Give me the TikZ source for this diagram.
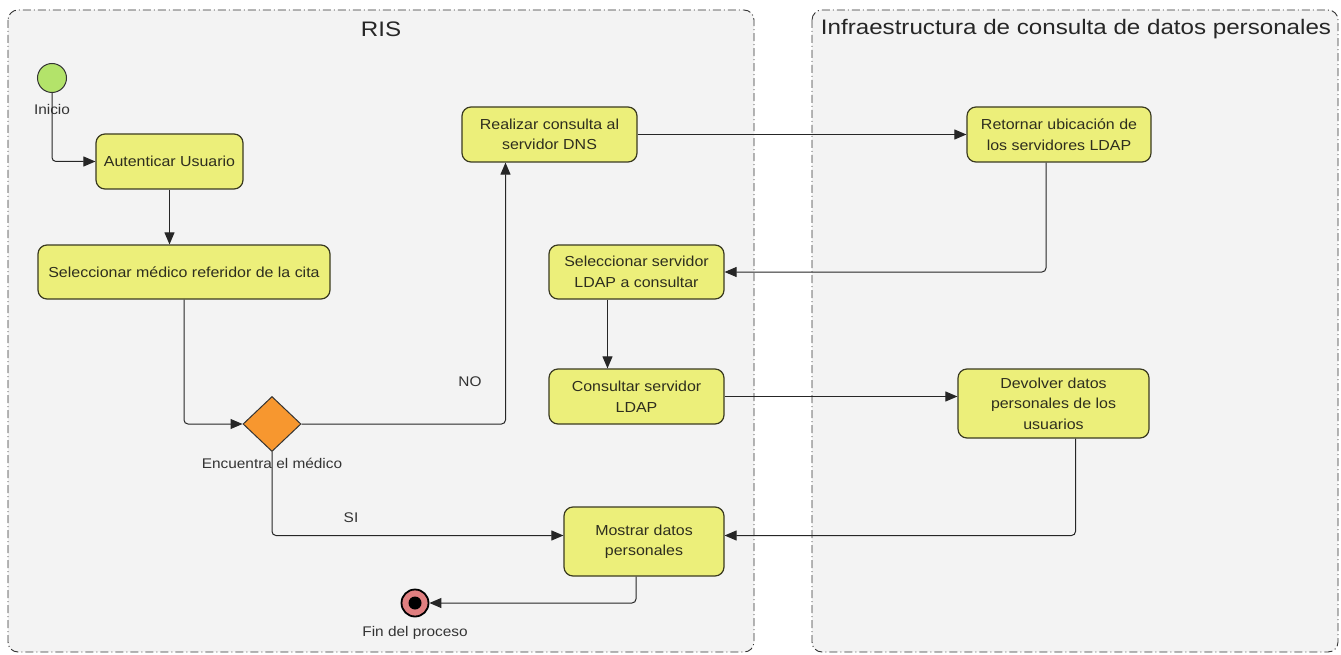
\documentclass[tikz,border=0pt]{standalone}
\usepackage{fontspec}
\setmainfont[FakeStretch=1.1]{Liberation Sans}
\newfontfamily\titlefont[FakeStretch=1.15]{Liberation Sans}
\usetikzlibrary{arrows.meta,shapes.geometric,calc}
\definecolor{lanebg}{HTML}{F3F3F3}
\definecolor{actfill}{HTML}{ECEF7A}
\definecolor{actdraw}{HTML}{3A3A20}
\definecolor{txt}{HTML}{2E2E1E}
\definecolor{startfill}{HTML}{B3E36A}
\definecolor{decfill}{HTML}{F7972F}
\definecolor{endfill}{HTML}{E07F80}
\tikzset{
  lane/.style={draw=black!80, fill=lanebg, line width=0.9pt, rounded corners=10pt,
    dash pattern=on 8pt off 3pt on 1pt off 3pt},
  act/.style={draw=actdraw, fill=actfill, line width=1.2pt, rounded corners=9pt,
    font=\fontsize{14.5}{20.5}\selectfont, text=txt, align=center, inner sep=0pt},
  flow/.style={draw=black!85, line width=1pt, rounded corners=4pt,
    -{Triangle[length=12pt,width=10pt]}},
  lbl/.style={font=\fontsize{14}{17}\selectfont, text=black!80, inner sep=0pt},
  title/.style={font=\titlefont\fontsize{21}{25}\selectfont, text=black!85, inner sep=0pt}
}
\begin{document}
\begin{tikzpicture}[x=1pt,y=-1pt]
\useasboundingbox (0,0) rectangle (1341,655);
\fill[white] (0,0) rectangle (1341,655);
% partitions
\draw[lane] (8,10) rectangle (754,652);
\draw[lane] (812,10) rectangle (1338,652);
\node[title] (tris) at (381,29) {RIS};
\node[title] (tinf) at (1076,29) {Infraestructura de consulta de datos personales};
% nodes
\node[circle, draw=black!80, fill=startfill, line width=1pt, minimum size=29pt, inner sep=0pt] (start) at (52,78) {};
\node[lbl] (linicio) at (52,109) {Inicio};
\node[act, minimum width=147pt, minimum height=55pt] (auth) at (169.5,161.5) {Autenticar Usuario};
\node[act, minimum width=292pt, minimum height=54pt] (sel) at (184,272) {Seleccionar médico referidor de la cita};
\node[diamond, draw=black!80, fill=decfill, line width=1pt, minimum width=58pt, minimum height=55pt, inner sep=0pt] (dec) at (272,424) {};
\node[lbl] (ldec) at (272,463) {Encuentra el médico};
\node[act, minimum width=175pt, minimum height=55pt] (real) at (549.5,134.5) {Realizar consulta al\\servidor DNS};
\node[act, minimum width=175pt, minimum height=54pt] (ss) at (636.5,272) {Seleccionar servidor\\LDAP a consultar};
\node[act, minimum width=175pt, minimum height=55pt] (cons) at (636.5,396.5) {Consultar servidor\\LDAP};
\node[act, minimum width=160pt, minimum height=69pt] (most) at (644,541.5) {Mostrar datos\\personales};
\node[act, minimum width=184pt, minimum height=55pt] (ret) at (1059,134.5) {Retornar ubicación de\\los servidores LDAP};
\node[act, minimum width=191pt, minimum height=69pt] (dev) at (1053.5,403.5) {Devolver datos\\personales de los\\usuarios};
\node[circle, draw=black, fill=endfill, line width=1.8pt, minimum size=27pt, inner sep=0pt] (fin) at (415,603) {};
\fill[black] (fin.center) circle (6.5pt);
\node[lbl] (lfin) at (415,633) {Fin del proceso};
% labels
\node[lbl] (lno) at (470,382) {NO};
\node[lbl] (lsi) at (351,518) {SI};
% connectors
\draw[flow] (start.south) |- (auth.west);
\draw[flow] (auth.south) -- (auth.south |- sel.north);
\draw[flow] (sel.south) |- (dec.west);
\draw[flow] (dec.east) -| ([xshift=-44pt]real.south);
\draw[flow] (real.east) -- (ret.west);
\draw[flow] ([xshift=-13pt]ret.south) |- (ss.east);
\draw[flow] ([xshift=-29pt]ss.south) -- ([xshift=-29pt]ss.south |- cons.north);
\draw[flow] (cons.east) -- (cons.east -| dev.west);
\draw[flow] ([xshift=22pt]dev.south) |- ([yshift=6pt]most.east);
\draw[flow] (dec.south) |- ([yshift=6pt]most.west);
\draw[flow] ([xshift=-8pt]most.south) |- (fin.east);
\end{tikzpicture}
\end{document}
